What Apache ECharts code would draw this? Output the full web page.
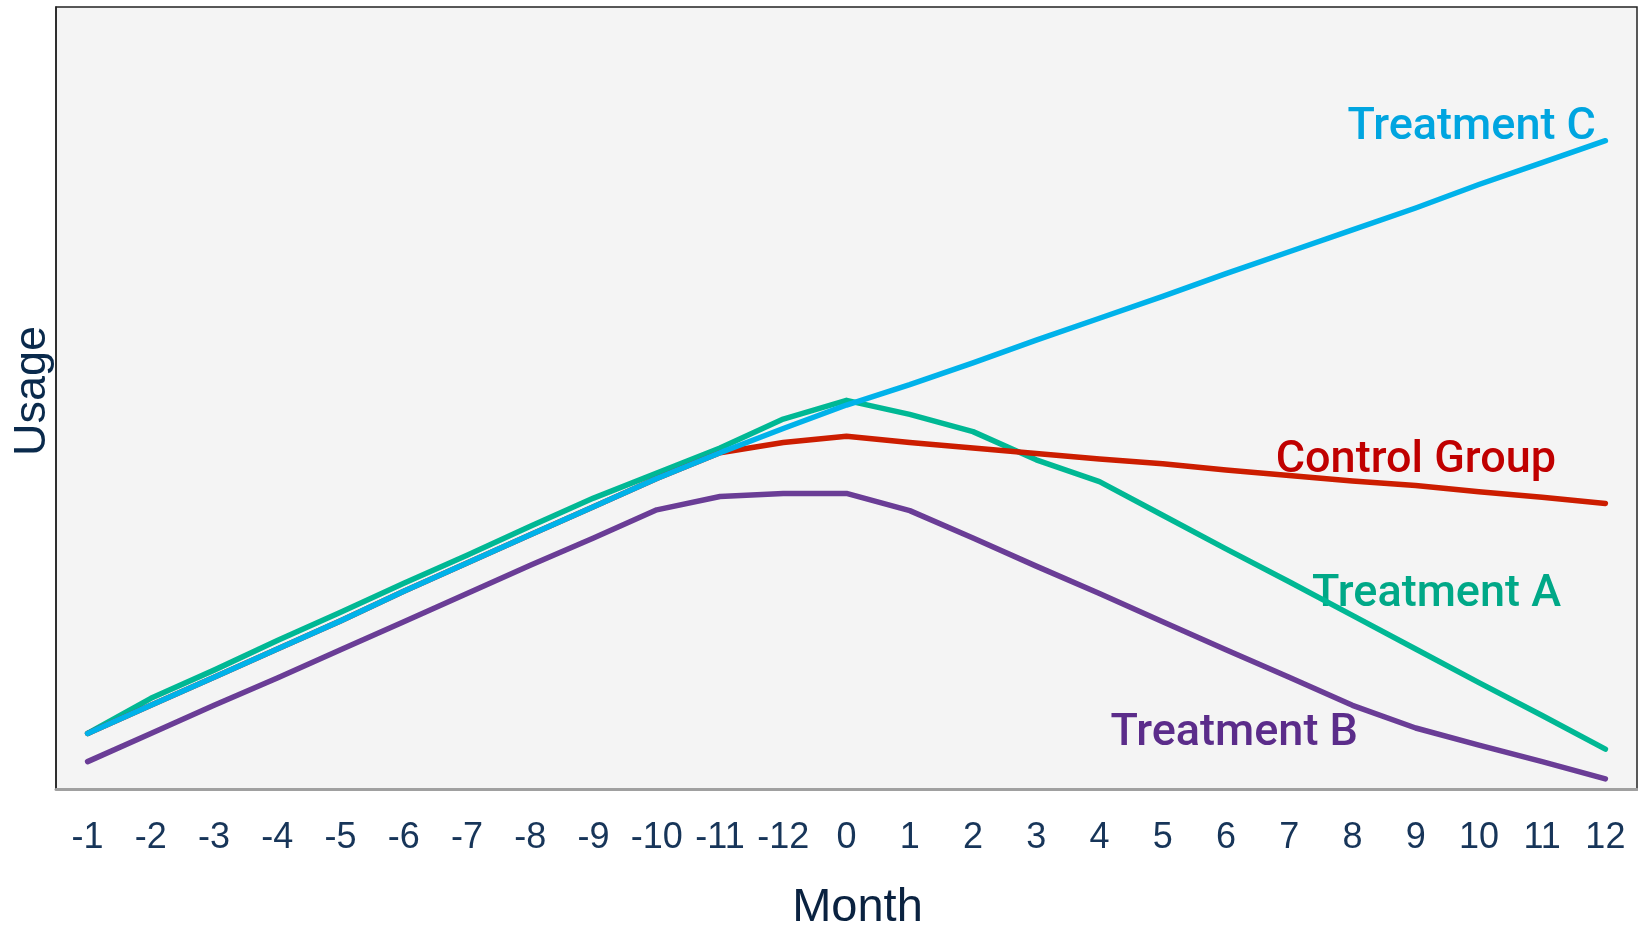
<!DOCTYPE html>
<html>
<head>
<meta charset="utf-8">
<script src="https://cdn.jsdelivr.net/npm/echarts@6/dist/echarts.min.js"></script>
<style>
html,body{margin:0;padding:0;background:#fff;}
#chart{width:1638px;height:929px;}
</style>
</head>
<body>
<div id="chart"></div>
<script>
const months = ['-1','-2','-3','-4','-5','-6','-7','-8','-9','-10','-11','-12','0','1','2','3','4','5','6','7','8','9','10','11','12'];
const controlGroup = [7.1,10.7,14.3,17.9,21.5,25.3,28.9,32.5,36.1,39.7,43.0,44.3,45.1,44.3,43.6,42.9,42.2,41.6,40.8,40.1,39.4,38.8,38.0,37.3,36.5];
const treatmentA = [7.1,11.6,15.2,19.0,22.6,26.3,29.9,33.6,37.2,40.4,43.6,47.3,49.7,47.9,45.7,42.1,39.3,35.0,30.7,26.5,22.2,17.9,13.6,9.4,5.1];
const treatmentB = [3.5,7.1,10.7,14.2,17.8,21.4,25.0,28.6,32.1,35.7,37.4,37.8,37.8,35.6,32.1,28.5,25.0,21.4,17.8,14.3,10.7,7.8,5.6,3.5,1.3];
const treatmentC = [7.1,10.7,14.3,17.9,21.5,25.3,28.9,32.5,36.1,39.7,43.0,46.1,49.1,51.7,54.5,57.4,60.2,63.0,65.9,68.7,71.5,74.3,77.3,80.1,82.9];
const seriesNames = ['Treatment A','Control Group','Treatment B','Treatment C'];

const chart = echarts.init(document.getElementById('chart'), null, {renderer:'canvas'});
const lineSeries = (name, data, color) => ({
  name, type:'line', data, showSymbol:false, symbol:'none',
  lineStyle:{color, width:5.5, cap:'round', join:'round'},
  itemStyle:{color}, animation:false
});
const labelFont = 'Roboto, "Liberation Sans", sans-serif';
const lbl = (text, x, y, color) => ({
  type:'text', x, y,
  style:{text, fill:color, font:'500 45px ' + labelFont, textAlign:'right', textVerticalAlign:'middle'}
});
chart.setOption({
  animation:false,
  grid:{left:56, top:7, right:1, bottom:140, outerBoundsMode:'none', containLabel:false, show:true, backgroundColor:'#f4f4f4', borderColor:'#222', borderWidth:1.5},
  xAxis:{
    type:'category', data:months, boundaryGap:true,
    axisLine:{show:true, lineStyle:{color:'#a0a0a0', width:3}},
    axisTick:{show:false},
    axisLabel:{color:'#173559', fontSize:36, fontFamily:'"Liberation Sans", Arial, sans-serif', margin:31, interval:0},
    name:'Month', nameLocation:'middle', nameGap:96,
    nameTextStyle:{color:'#0a2240', fontSize:47, fontFamily:'"Liberation Sans", Arial, sans-serif', padding:[0,0,0,22]}
  },
  yAxis:{
    type:'value', min:0, max:100,
    axisLine:{show:true, lineStyle:{color:'#222', width:1.5}},
    axisTick:{show:false}, axisLabel:{show:false}, splitLine:{show:false},
    name:'Usage', nameLocation:'middle', nameGap:1,
    nameTextStyle:{color:'#0a2a4c', fontSize:45, fontFamily:'"Liberation Sans", Arial, sans-serif', padding:[0,0,0,14]}
  },
  series:[
    lineSeries(seriesNames[0], treatmentA, '#00b894'),
    lineSeries(seriesNames[1], controlGroup, '#cc1d00'),
    lineSeries(seriesNames[2], treatmentB, '#6a3d96'),
    lineSeries(seriesNames[3], treatmentC, '#00b2ea')
  ],
  graphic:[
    lbl('Treatment C', 1596, 128, '#00a5e0'),
    lbl('Control Group', 1556, 461, '#c00000'),
    lbl('Treatment A', 1561, 595, '#00a887'),
    lbl('Treatment B', 1358, 734, '#5b2c8a')
  ]
});
</script>
</body>
</html>
